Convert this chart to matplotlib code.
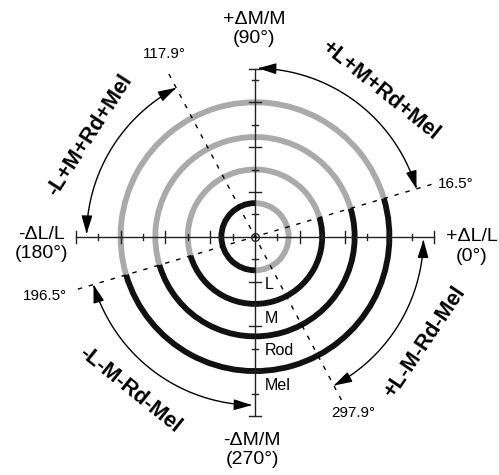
import numpy as np
import matplotlib
matplotlib.use('Agg')
import matplotlib.pyplot as plt
from matplotlib.patches import Arc, FancyArrowPatch, ArrowStyle
from matplotlib.path import Path

plt.rcParams['font.family'] = ['Liberation Sans', 'DejaVu Sans']

# rings (radius in tick units), gray half starts at gray_from and spans 180 deg
ring_names = ['L', 'M', 'Rod', 'Mel']
ring_radius = [1.5, 3.0, 4.45, 6.0]
ring_gray_from = [-90, 16.5, 16.5, 16.5]

# dashed boundary directions
boundary_angles = [16.5, 117.9]
angle_labels = ['16.5°', '117.9°', '196.5°', '297.9°']

# sector arrows
sector_labels = ['+L+M+Rd+Mel', '-L+M+Rd+Mel', '-L-M-Rd-Mel', '+L-M-Rd-Mel']
sector_from = [16.5, 117.9, 196.5, 297.9]
sector_to = [89, 179, 269, 359]

# axes
axis_labels = ['+ΔL/L\n(0°)', '+ΔM/M\n(90°)', '-ΔL/L\n(180°)', '-ΔM/M\n(270°)']
axis_dirs = [0, 90, 180, 270]
axis_length = [8, 7.5, 8, 8]

GRAY = '#aaaaaa'
BLACK = '#111111'
AX = '#222222'

u = 22.4
cx, cy = 255, 236.7
fig = plt.figure(figsize=(4.99, 4.75), dpi=100)
ax = fig.add_axes([0, 0, 1, 1])
ax.set_xlim(-cx / u, (499 - cx) / u)
ax.set_ylim(-(475 - cy) / u, cy / u)
ax.axis('off')

# rings
for r, g in zip(ring_radius, ring_gray_from):
    ax.add_patch(Arc((0, 0), 2 * r, 2 * r, theta1=g, theta2=g + 180,
                     color=GRAY, lw=4.2, zorder=2))
    ax.add_patch(Arc((0, 0), 2 * r, 2 * r, theta1=g + 180, theta2=g + 360,
                     color=BLACK, lw=4.2, zorder=2))

# ring labels
for name, r in zip(ring_names, ring_radius):
    ax.text(0.42, -(r + 0.63), name, fontsize=11.5, ha='left', va='center',
            color='k')

# axes with ticks
for d, L in zip(axis_dirs, axis_length):
    c, s = np.cos(np.radians(d)), np.sin(np.radians(d))
    ax.plot([0, L * c], [0, L * s], color=AX, lw=1, zorder=3)
    ks = list(np.arange(1, int(np.floor(L)) + 1))
    if ks[-1] != L:
        ks.append(L)
    for k in ks:
        major = (k % 2 == 0) or k == L
        h = 0.26 if major else 0.13
        x, y = k * c, k * s
        ax.plot([x - h * s, x + h * s], [y - h * c, y + h * c], color=AX,
                lw=1, zorder=3)
ax.plot(0, 0, 'o', ms=5.5, mfc='none', mec=AX, mew=1, zorder=4)

# dashed boundaries
for a in boundary_angles:
    c, s = np.cos(np.radians(a)), np.sin(np.radians(a))
    ax.plot([-8.25 * c, 8.3 * c], [-8.25 * s, 8.3 * s], color='k', lw=1,
            ls=(0, (3.2, 5)), zorder=3)

label_r = [9.28, 9.1, 9.73, 9.0]
label_a = [14.7, 116.4, 195.8, 299.1]
for t, a, r in zip(angle_labels, label_a, label_r):
    ax.text(r * np.cos(np.radians(a)), r * np.sin(np.radians(a)), t,
            fontsize=11, ha='center', va='center', color='k')

# sector arrows
arrow = ArrowStyle('<|-|>', head_length=11, head_width=3.3)
for a0, a1 in zip(sector_from, sector_to):
    t = np.radians(np.linspace(a0, a1, 120))
    pts = np.c_[7.52 * np.cos(t), 7.52 * np.sin(t)]
    ax.add_patch(FancyArrowPatch(path=Path(pts), arrowstyle=arrow,
                                 mutation_scale=1, lw=1, color='k', zorder=3))

sec_a = [49.4, 148.4, 230.8, 328.2]
sec_r = [8.58, 8.65, 8.83, 8.93]
sec_rot = [-39, 57, -39, 56]
for t, a, r, rot in zip(sector_labels, sec_a, sec_r, sec_rot):
    ax.text(r * np.cos(np.radians(a)), r * np.sin(np.radians(a)), t,
            fontsize=15.5, fontweight='bold', rotation=rot,
            rotation_mode='anchor', ha='center', va='center', color='k')

ax_pos = [(9.69, -0.44), (-0.05, 9.27), (-9.55, -0.33), (-0.13, -9.52)]
for t, (x, y) in zip(axis_labels, ax_pos):
    ax.text(x, y, t, fontsize=14, ha='center', va='center',
            linespacing=1.2, color='k')

fig.savefig('out.png', dpi=100)
